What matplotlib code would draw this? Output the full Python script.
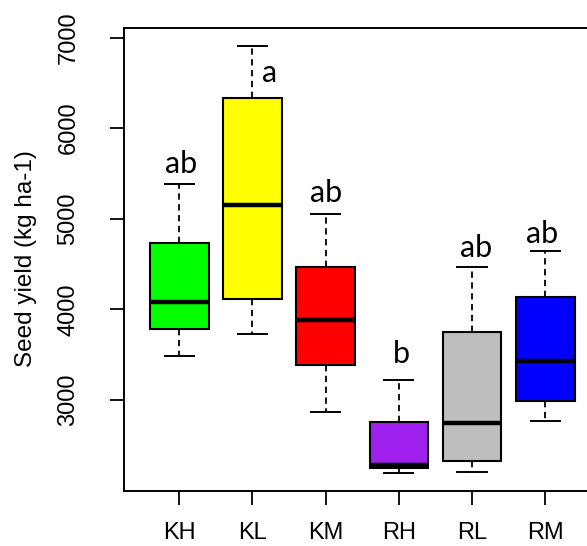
import numpy as np
import matplotlib
matplotlib.use("Agg")
import matplotlib.pyplot as plt

# --- data ---
groups  = ['KH', 'KL', 'KM', 'RH', 'RL', 'RM']
whislo  = [3485, 3731, 2870, 2197, 2208, 2770]
q1      = [3786, 4114, 3385, 2245, 2329, 2991]
med     = [4084, 5151, 3882, 2282, 2742, 3433]
q3      = [4735, 6336, 4470, 2753, 3746, 4139]
whishi  = [5383, 6903, 5052, 3220, 4470, 4644]
colors  = ['#00FF00', '#FFFF00', '#FF0000', '#A020F0', '#BEBEBE', '#0000FF']

# significance letters: text, x position, y (baseline)
sig_txt = ['ab', 'a', 'ab', 'b', 'ab', 'ab']
sig_x   = [1.02, 2.23, 3.0, 4.04, 5.05, 5.95]
sig_y   = [5508, 6512, 5188, 3407, 4577, 4735]

yticks = [3000, 4000, 5000, 6000, 7000]

label_fz = 17.5
tick_fz = 17
sig_fz = 22

plt.rcParams['font.family'] = ['Liberation Sans', 'DejaVu Sans']

fig = plt.figure(figsize=(5.87, 5.46), dpi=100)
ax = fig.add_axes([124/587, 55/546, 476.5/587, 463/546])

pos = np.arange(1, len(groups) + 1)
stats = [dict(label=g, whislo=lo, q1=a, med=m, q3=b, whishi=hi, fliers=[])
         for g, lo, a, m, b, hi in zip(groups, whislo, q1, med, q3, whishi)]

bp = ax.bxp(stats, positions=pos, widths=0.8, capwidths=0.4,
            patch_artist=True, showfliers=False,
            boxprops=dict(edgecolor='black', linewidth=1.5),
            medianprops=dict(color='black', linewidth=3.2, solid_capstyle='butt'),
            whiskerprops=dict(color='black', linewidth=1.3, linestyle=(0, (3.5, 2.5))),
            capprops=dict(color='black', linewidth=1.4))
for patch, c in zip(bp['boxes'], colors):
    patch.set_facecolor(c)

for t, x, y in zip(sig_txt, sig_x, sig_y):
    ax.text(x, y, t, ha='center', va='baseline', fontsize=sig_fz, family='Lato')

ax.set_xlim(0.245, 6.755)
ax.set_ylim(1995, 7105)
ax.set_yticks(yticks)
ax.set_yticklabels([str(v) for v in yticks], rotation=90, va='center')
ax.set_xticks(pos)
ax.set_xticklabels(groups)
ax.tick_params(axis='both', direction='out', length=10, width=1.3,
               labelsize=tick_fz, color='black')
ax.tick_params(axis='y', pad=22)
ax.tick_params(axis='x', pad=12)
for s in ax.spines.values():
    s.set_linewidth(1.4)

# y label placed to match the reference
ax.set_ylabel('Seed yield (kg ha-1)', fontsize=label_fz)
ax.yaxis.set_label_coords(-0.182, 0.503)

fig.savefig('out.png', dpi=100)
